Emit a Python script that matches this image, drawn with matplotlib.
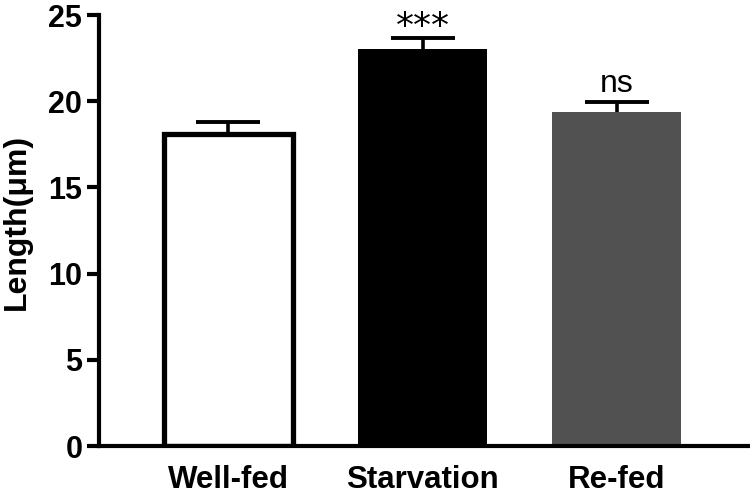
import numpy as np
import matplotlib
matplotlib.use("Agg")
from matplotlib import pyplot as plt

# values
groups = ["Well-fed", "Starvation", "Re-fed"]
means = [18.1, 23.0, 19.4]
sems = [0.7, 0.65, 0.55]
marks = ["", "***", "ns"]
yticks = [0, 5, 10, 15, 20, 25]

plt.rcParams['font.family'] = ['Liberation Sans', 'DejaVu Sans']

fig = plt.figure(figsize=(7.5, 4.95), dpi=100)
ax = fig.add_axes([99 / 750, 49 / 495, 649 / 750, 431 / 495])

x = np.arange(len(groups))
faces = ["white", "black", "#515151"]
edges = ["black", "black", "#515151"]
ax.bar(x, means, width=0.667, color=faces, edgecolor=edges, linewidth=[3.8, 0, 0], zorder=2)

# only the upper half of the error bar is shown: stem + cap
tops = np.array(means) + np.array(sems)
ax.vlines(x, means, tops, color='black', linewidth=2.6, zorder=3)
ax.hlines(tops, x - 0.165, x + 0.165, color='black', linewidth=2.8, zorder=3)

for xi, top, t in zip(x, tops, marks):
    if t == "***":
        ax.text(xi, top + 0.05, t, ha='center', va='baseline', fontsize=26, family='DejaVu Sans')
    elif t:
        ax.text(xi, top + 0.2, t, ha='center', va='bottom', fontsize=23)

ax.set_xlim(-0.667, 2.677)
ax.set_ylim(0, 25)
ax.set_yticks(yticks)
ax.set_xticks(x)
ax.set_xticklabels(groups, fontsize=22.5, fontweight='bold')
ax.tick_params(axis='y', labelsize=22, width=3, length=9, pad=3)
ax.tick_params(axis='x', length=0, pad=14)
for lab in ax.get_yticklabels():
    lab.set_fontweight('bold')
ax.set_ylabel("Length(μm)", fontsize=23, fontweight='bold')
ax.yaxis.set_label_coords(-0.104, 0.52)

for side in ['top', 'right']:
    ax.spines[side].set_visible(False)
for side in ['left', 'bottom']:
    ax.spines[side].set_linewidth(3)

fig.savefig("out.png", dpi=100)
